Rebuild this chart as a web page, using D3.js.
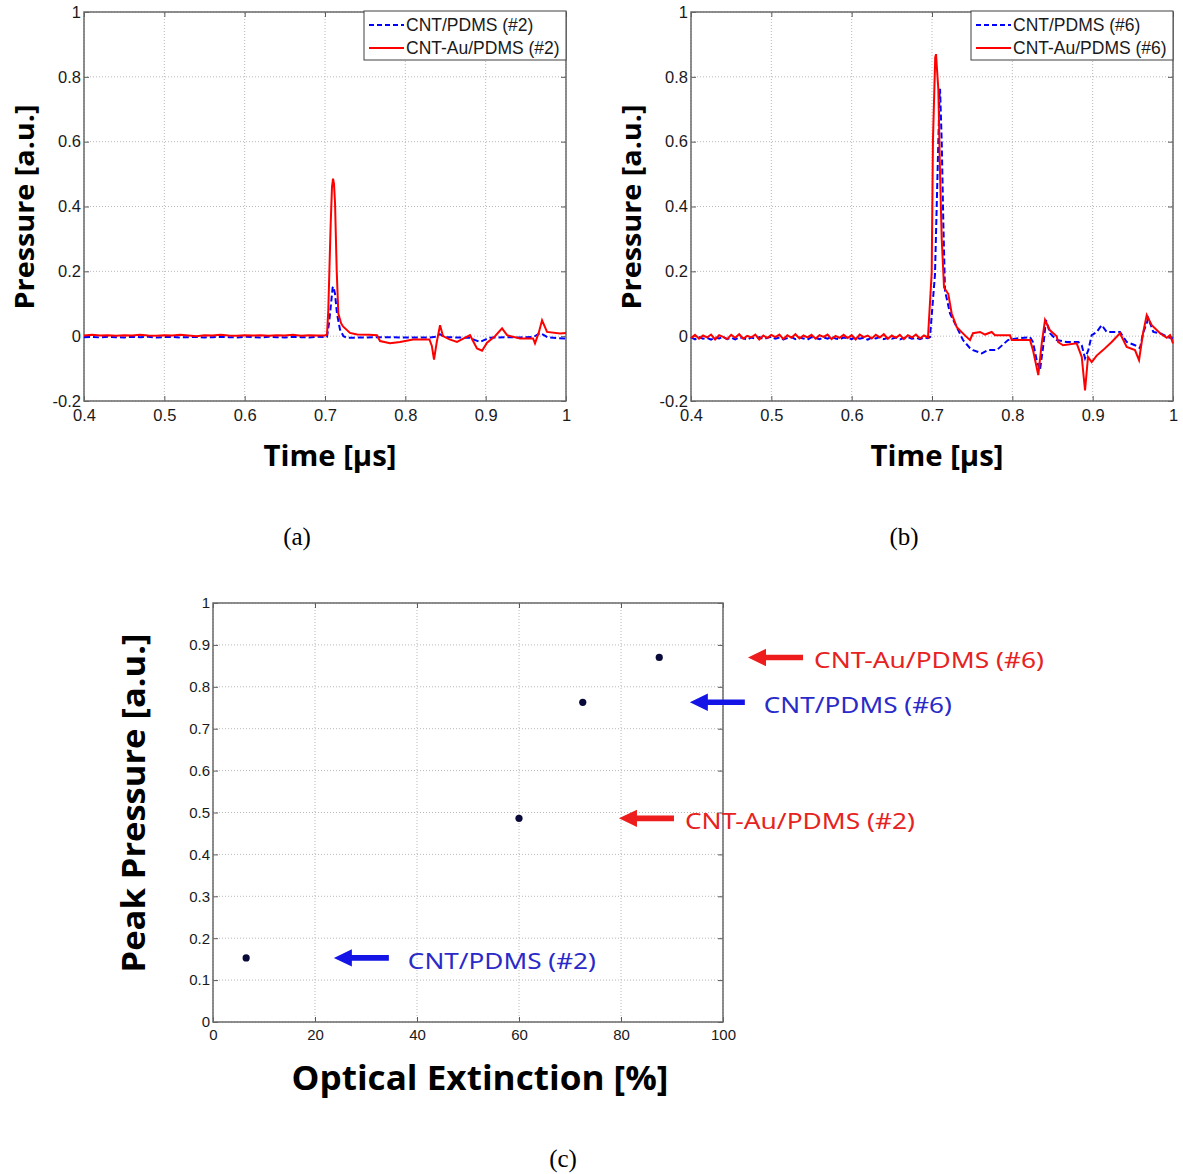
<!DOCTYPE html>
<html>
<head>
<meta charset="utf-8">
<script src="https://cdn.jsdelivr.net/npm/d3@7"></script>
<style>
  body { margin: 0; background: #fff; }
  svg { display: block; }
</style>
</head>
<body>
<script>
// ---------- Panel (a): sample #2, pressure traces [time µs, pressure a.u.] ----------
const a2Blue = [
  [0.400,-0.003],[0.410,-0.002],[0.420,-0.004],[0.430,-0.002],[0.440,-0.003],[0.450,-0.004],
  [0.460,-0.002],[0.470,-0.003],[0.480,-0.002],[0.490,-0.004],[0.500,-0.003],[0.510,-0.002],
  [0.520,-0.004],[0.530,-0.003],[0.540,-0.002],[0.550,-0.004],[0.560,-0.003],[0.570,-0.002],
  [0.580,-0.003],[0.590,-0.004],[0.600,-0.002],[0.610,-0.003],[0.620,-0.004],[0.630,-0.002],
  [0.640,-0.003],[0.650,-0.004],[0.660,-0.002],[0.670,-0.003],[0.680,-0.004],[0.690,-0.002],
  [0.700,-0.003],[0.7025,-0.002],[0.7050,0.040],[0.7075,0.100],[0.7095,0.150],[0.7105,0.153],
  [0.7125,0.130],[0.7149,0.070],[0.7187,0.020],[0.7230,0.000],[0.7274,-0.005],[0.7500,-0.004],
  [0.7685,-0.003],[0.8000,-0.004],[0.8307,-0.004],[0.8380,-0.002],[0.8430,0.006],[0.8494,-0.003],
  [0.8650,-0.004],[0.8805,-0.005],[0.8870,-0.012],[0.8930,-0.018],[0.9000,-0.010],[0.9054,-0.005],
  [0.9250,-0.003],[0.9428,-0.004],[0.9600,-0.002],[0.9677,0.010],[0.9720,0.004],[0.9776,-0.004],
  [0.9900,-0.006],[1.000,-0.007]
];
const a2Red = [
  [0.400,0.002],[0.410,0.004],[0.420,0.002],[0.430,0.003],[0.440,0.001],[0.450,0.003],
  [0.460,0.002],[0.470,0.004],[0.480,0.002],[0.490,0.001],[0.500,0.003],[0.510,0.002],
  [0.520,0.004],[0.530,0.002],[0.540,0.000],[0.550,0.003],[0.560,0.002],[0.570,0.004],
  [0.580,0.002],[0.590,0.001],[0.600,0.003],[0.610,0.002],[0.620,0.003],[0.630,0.001],
  [0.640,0.003],[0.650,0.002],[0.660,0.004],[0.670,0.001],[0.680,0.003],[0.690,0.002],
  [0.700,0.002],[0.7025,0.005],[0.7041,0.080],[0.7070,0.340],[0.7087,0.460],[0.7100,0.486],
  [0.7112,0.470],[0.7125,0.410],[0.7146,0.200],[0.7166,0.070],[0.7200,0.040],[0.7224,0.030],
  [0.7311,0.010],[0.7400,0.005],[0.7550,0.004],[0.7647,0.003],[0.7685,-0.015],[0.7809,-0.022],
  [0.7934,-0.018],[0.8096,-0.010],[0.8300,-0.010],[0.8330,-0.030],[0.8357,-0.072],[0.8390,-0.020],
  [0.8432,0.034],[0.8469,0.000],[0.8550,-0.010],[0.8643,-0.018],[0.8805,0.003],[0.8892,-0.038],
  [0.8955,-0.045],[0.9017,-0.020],[0.9116,0.000],[0.9204,0.024],[0.9266,0.003],[0.9428,-0.007],
  [0.9590,-0.007],[0.9614,-0.022],[0.9660,0.010],[0.9702,0.049],[0.9764,0.013],[0.9926,0.008],
  [1.000,0.010]
];

// ---------- Panel (b): sample #6 ----------
const b6Blue = [
  [0.400,-0.004],[0.405,-0.010],[0.410,-0.003],[0.415,-0.008],[0.420,-0.005],[0.425,-0.011],
  [0.430,-0.004],[0.435,-0.007],[0.440,-0.002],[0.445,-0.009],[0.450,-0.005],[0.455,-0.010],
  [0.460,-0.003],[0.465,-0.006],[0.470,-0.011],[0.475,-0.004],[0.480,-0.008],[0.485,-0.003],
  [0.490,-0.009],[0.495,-0.005],[0.500,-0.002],[0.505,-0.008],[0.510,-0.004],[0.515,-0.010],
  [0.520,-0.006],[0.525,-0.003],[0.530,-0.009],[0.535,-0.004],[0.540,-0.007],[0.545,-0.011],
  [0.550,-0.003],[0.555,-0.006],[0.560,-0.009],[0.565,-0.004],[0.570,-0.008],[0.575,-0.002],
  [0.580,-0.007],[0.585,-0.010],[0.590,-0.004],[0.595,-0.006],[0.600,-0.009],[0.605,-0.003],
  [0.610,-0.008],[0.615,-0.005],[0.620,-0.011],[0.625,-0.004],[0.630,-0.007],[0.635,-0.003],
  [0.640,-0.009],[0.645,-0.005],[0.650,-0.008],[0.655,-0.004],[0.660,-0.010],[0.665,-0.006],
  [0.670,-0.003],[0.675,-0.008],[0.680,-0.005],[0.685,-0.009],[0.690,-0.004],[0.695,-0.006],
  [0.6975,-0.003],[0.7037,0.190],[0.7079,0.600],[0.7095,0.755],[0.7100,0.763],[0.7121,0.600],
  [0.7141,0.350],[0.7162,0.140],[0.7224,0.070],[0.7308,0.028],[0.7386,-0.012],[0.7473,-0.037],
  [0.7510,-0.043],[0.7619,-0.053],[0.7697,-0.043],[0.7806,-0.043],[0.7946,-0.012],[0.8054,-0.007],
  [0.8220,-0.003],[0.8257,-0.018],[0.8303,-0.074],[0.8344,-0.105],[0.8386,-0.028],[0.8419,0.050],
  [0.8469,0.009],[0.8552,-0.012],[0.8677,-0.018],[0.8821,-0.018],[0.8864,-0.028],[0.8905,-0.068],
  [0.8946,-0.043],[0.8988,0.003],[0.9050,0.013],[0.9113,0.034],[0.9175,0.013],[0.9237,0.013],
  [0.9340,0.013],[0.9424,-0.018],[0.9527,-0.028],[0.9590,-0.037],[0.9627,0.009],[0.9693,0.055],
  [0.9755,0.013],[0.9839,0.009],[0.9938,-0.003],[1.000,-0.007]
];
const b6Red = [
  [0.400,-0.006],[0.405,0.004],[0.410,-0.008],[0.415,0.002],[0.420,-0.004],[0.425,0.005],
  [0.430,-0.010],[0.435,0.003],[0.440,-0.002],[0.445,-0.009],[0.450,0.004],[0.455,-0.005],
  [0.460,0.006],[0.465,-0.008],[0.470,0.001],[0.475,-0.004],[0.480,0.005],[0.485,-0.010],
  [0.490,0.002],[0.495,-0.006],[0.500,0.004],[0.505,-0.003],[0.510,0.005],[0.515,-0.009],
  [0.520,0.003],[0.525,-0.005],[0.530,0.006],[0.535,-0.007],[0.540,0.002],[0.545,-0.004],
  [0.550,0.004],[0.555,-0.008],[0.560,0.003],[0.565,-0.002],[0.570,0.005],[0.575,-0.009],
  [0.580,0.001],[0.585,-0.005],[0.590,0.004],[0.595,-0.006],[0.600,0.003],[0.605,-0.010],
  [0.610,0.005],[0.615,-0.003],[0.620,0.002],[0.625,-0.007],[0.630,0.004],[0.635,-0.004],
  [0.640,0.006],[0.645,-0.008],[0.650,0.002],[0.655,-0.005],[0.660,0.004],[0.665,-0.009],
  [0.670,0.003],[0.675,-0.004],[0.680,0.005],[0.685,-0.007],[0.690,0.002],[0.695,-0.004],
  [0.6996,0.195],[0.7012,0.605],[0.7040,0.860],[0.7050,0.870],[0.7079,0.760],[0.7100,0.500],
  [0.7121,0.300],[0.7150,0.150],[0.7203,0.130],[0.7245,0.070],[0.7308,0.028],[0.7432,-0.003],
  [0.7473,-0.012],[0.7510,0.009],[0.7598,0.013],[0.7660,0.005],[0.7743,0.013],[0.7784,0.003],
  [0.7971,0.003],[0.7992,-0.012],[0.8220,-0.012],[0.8257,-0.043],[0.8323,-0.120],[0.8366,-0.022],
  [0.8407,0.050],[0.8469,0.018],[0.8552,0.000],[0.8569,-0.018],[0.8631,-0.028],[0.8801,-0.022],
  [0.8864,-0.064],[0.8905,-0.167],[0.8942,-0.064],[0.8988,-0.080],[0.9050,-0.060],[0.9129,-0.043],
  [0.9237,-0.018],[0.9340,0.009],[0.9424,-0.033],[0.9527,-0.043],[0.9577,-0.074],[0.9627,0.009],
  [0.9673,0.065],[0.9735,0.034],[0.9839,0.009],[0.9922,-0.005],[0.9963,0.003],[1.000,-0.022]
];

// ---------- Panel (c): peak pressure vs optical extinction ----------
const sampleNames = ["CNT/PDMS (#2)", "CNT-Au/PDMS (#2)", "CNT/PDMS (#6)", "CNT-Au/PDMS (#6)"];
const extinction  = [6.5, 60, 72.5, 87.5];      // %
const peakPressure = [0.153, 0.486, 0.763, 0.870]; // a.u.
const sampleKind  = ["CNT", "Au", "CNT", "Au"];
const calloutTipX = [23.7, 79.6, 93.5, 104.9];   // arrow tip, in % units

// ---------- tick values ----------
const timeTicks = [0.4, 0.5, 0.6, 0.7, 0.8, 0.9, 1];
const pressureTicks = [-0.2, 0, 0.2, 0.4, 0.6, 0.8, 1];
const extinctionTicks = [0, 20, 40, 60, 80, 100];
const peakTicks = [0, 0.1, 0.2, 0.3, 0.4, 0.5, 0.6, 0.7, 0.8, 0.9, 1];

const BLUE = "#0000ff", RED = "#ff0000";
const TICK_FONT = "'Liberation Sans', Arial, sans-serif";
const TITLE_FONT = "'Open Sans', 'DejaVu Sans', sans-serif";
const num = v => String(+v.toFixed(2));

const svg = d3.select("body").append("svg").attr("width", 1183).attr("height", 1174);

// Matlab-style axes: dotted grid, inward ticks on all four sides, boxed frame
function drawAxes(g, x, y, xt, yt, fs, padX, padY) {
  const [xl, xr] = x.range(), [yb, yt0] = y.range();
  const grid = g.append("g").attr("stroke", "#b8b8b8").attr("stroke-dasharray", "1,2").attr("stroke-width", 1);
  grid.selectAll(".gx").data(xt).join("line")
    .attr("x1", d => x(d)).attr("x2", d => x(d)).attr("y1", yb).attr("y2", yt0);
  grid.selectAll(".gy").data(yt).join("line")
    .attr("x1", xl).attr("x2", xr).attr("y1", d => y(d)).attr("y2", d => y(d));

  const style = sel => {
    sel.select(".domain").remove();
    sel.selectAll(".tick line").attr("stroke", "#5a5a5a");
    sel.selectAll("text").attr("font-family", TICK_FONT).attr("font-size", fs).attr("fill", "#1a1a1a");
  };
  g.append("g").attr("transform", `translate(0,${yb})`)
    .call(d3.axisBottom(x).tickValues(xt).tickSize(-5).tickPadding(padX).tickFormat(num)).call(style);
  g.append("g").attr("transform", `translate(0,${yt0})`)
    .call(d3.axisTop(x).tickValues(xt).tickSize(-5).tickFormat("")).call(style);
  g.append("g").attr("transform", `translate(${xl},0)`)
    .call(d3.axisLeft(y).tickValues(yt).tickSize(-5).tickPadding(padY).tickFormat(num)).call(style);
  g.append("g").attr("transform", `translate(${xr},0)`)
    .call(d3.axisRight(y).tickValues(yt).tickSize(-5).tickFormat("")).call(style);

  g.append("rect").attr("x", xl).attr("y", yt0).attr("width", xr - xl).attr("height", yb - yt0)
    .attr("fill", "none").attr("stroke", "#6a6a6a").attr("stroke-width", 1.5);
}

function boldTitle(g, text, x, y, size, len, rotate) {
  return g.append("text")
    .attr("transform", `translate(${x},${y})` + (rotate ? " rotate(-90)" : ""))
    .attr("text-anchor", "middle")
    .attr("font-family", TITLE_FONT).attr("font-weight", "bold")
    .attr("font-size", size).attr("fill", "#000")
    .attr("textLength", len).attr("lengthAdjust", "spacingAndGlyphs")
    .text(text);
}

function caption(text, x, y) {
  svg.append("text").attr("x", x).attr("y", y).attr("text-anchor", "middle")
    .attr("font-family", "'Liberation Serif', 'Times New Roman', serif")
    .attr("font-size", 25).attr("fill", "#000").text(text);
}

// ---------- time-trace panels ----------
function tracePanel(left, blueData, redData, blueName, redName, capText) {
  const g = svg.append("g");
  const x = d3.scaleLinear().domain([0.4, 1]).range([left, left + 482]);
  const y = d3.scaleLinear().domain([-0.2, 1]).range([401, 12]);
  drawAxes(g, x, y, timeTicks, pressureTicks, 16.5, 8, 3);

  const line = d3.line().x(d => x(d[0])).y(d => y(d[1]));
  g.append("path").datum(blueData).attr("d", line).attr("fill", "none")
    .attr("stroke", BLUE).attr("stroke-width", 2).attr("stroke-dasharray", "6,3");
  g.append("path").datum(redData).attr("d", line).attr("fill", "none")
    .attr("stroke", RED).attr("stroke-width", 2);

  // legend box in the upper-right corner
  const lx = left + 280, ly = 11, lw = 202, lh = 49;
  const lg = g.append("g");
  lg.append("rect").attr("x", lx).attr("y", ly).attr("width", lw).attr("height", lh)
    .attr("fill", "#fff").attr("stroke", "#404040").attr("stroke-width", 1);
  const rows = [
    { name: blueName, color: BLUE, dash: "5,3", cy: ly + 14 },
    { name: redName, color: RED, dash: null, cy: ly + 37 }
  ];
  rows.forEach(r => {
    lg.append("line").attr("x1", lx + 5).attr("x2", lx + 40).attr("y1", r.cy).attr("y2", r.cy)
      .attr("stroke", r.color).attr("stroke-width", 2).attr("stroke-dasharray", r.dash);
    lg.append("text").attr("x", lx + 42).attr("y", r.cy + 6)
      .attr("font-family", TICK_FONT).attr("font-size", 17.5).attr("fill", "#1a1a1a").text(r.name);
  });

  boldTitle(g, "Pressure [a.u.]", left - 50, 207, 27, 205, true);
  boldTitle(g, "Time [\u03bcs]", left + 246, 466, 28, 133, false);
  caption(capText, left + 213, 545);
}

tracePanel(84, a2Blue, a2Red, "CNT/PDMS (#2)", "CNT-Au/PDMS (#2)", "(a)");
tracePanel(691, b6Blue, b6Red, "CNT/PDMS (#6)", "CNT-Au/PDMS (#6)", "(b)");

// ---------- peak pressure scatter ----------
{
  const g = svg.append("g");
  const x = d3.scaleLinear().domain([0, 100]).range([213, 723]);
  const y = d3.scaleLinear().domain([0, 1]).range([1022, 603]);
  drawAxes(g, x, y, extinctionTicks, peakTicks, 15, 7, 3);

  const pts = extinction.map((e, i) => ({ e, p: peakPressure[i], name: sampleNames[i], kind: sampleKind[i], tip: calloutTipX[i] }));

  g.selectAll(".pt").data(pts).join("circle")
    .attr("cx", d => x(d.e)).attr("cy", d => y(d.p)).attr("r", 3.6)
    .attr("fill", "#0a0a3a");

  // callout arrows with labels
  const arrowColor = { CNT: "#1414e6", Au: "#ee1c1c" };
  const textColor = { CNT: "#2a2ac8", Au: "#e62222" };
  pts.forEach(d => {
    const tx = x(d.tip), cy = y(d.p);
    const hl = 18, hh = 8.7, st = 2.8, len = 55;
    const path = d3.path();
    path.moveTo(tx, cy);
    path.lineTo(tx + hl, cy - hh);
    path.lineTo(tx + hl, cy - st);
    path.lineTo(tx + len, cy - st);
    path.lineTo(tx + len, cy + st);
    path.lineTo(tx + hl, cy + st);
    path.lineTo(tx + hl, cy + hh);
    path.closePath();
    g.append("path").attr("d", path.toString()).attr("fill", arrowColor[d.kind]);
    const gap = d.kind === "Au" ? 66 : 74;
    g.append("text").attr("x", tx + gap).attr("y", cy + 11)
      .attr("font-family", "'Noto Sans', 'Open Sans', sans-serif").attr("font-size", 22)
      .attr("fill", textColor[d.kind])
      .attr("textLength", d.kind === "Au" ? 230 : 188).attr("lengthAdjust", "spacingAndGlyphs")
      .text(d.name);
  });

  boldTitle(g, "Peak Pressure [a.u.]", 145, 803, 32, 339, true);
  boldTitle(g, "Optical Extinction [%]", 480, 1090, 34, 377, false);
  caption("(c)", 563, 1167);
}
</script>
</body>
</html>
